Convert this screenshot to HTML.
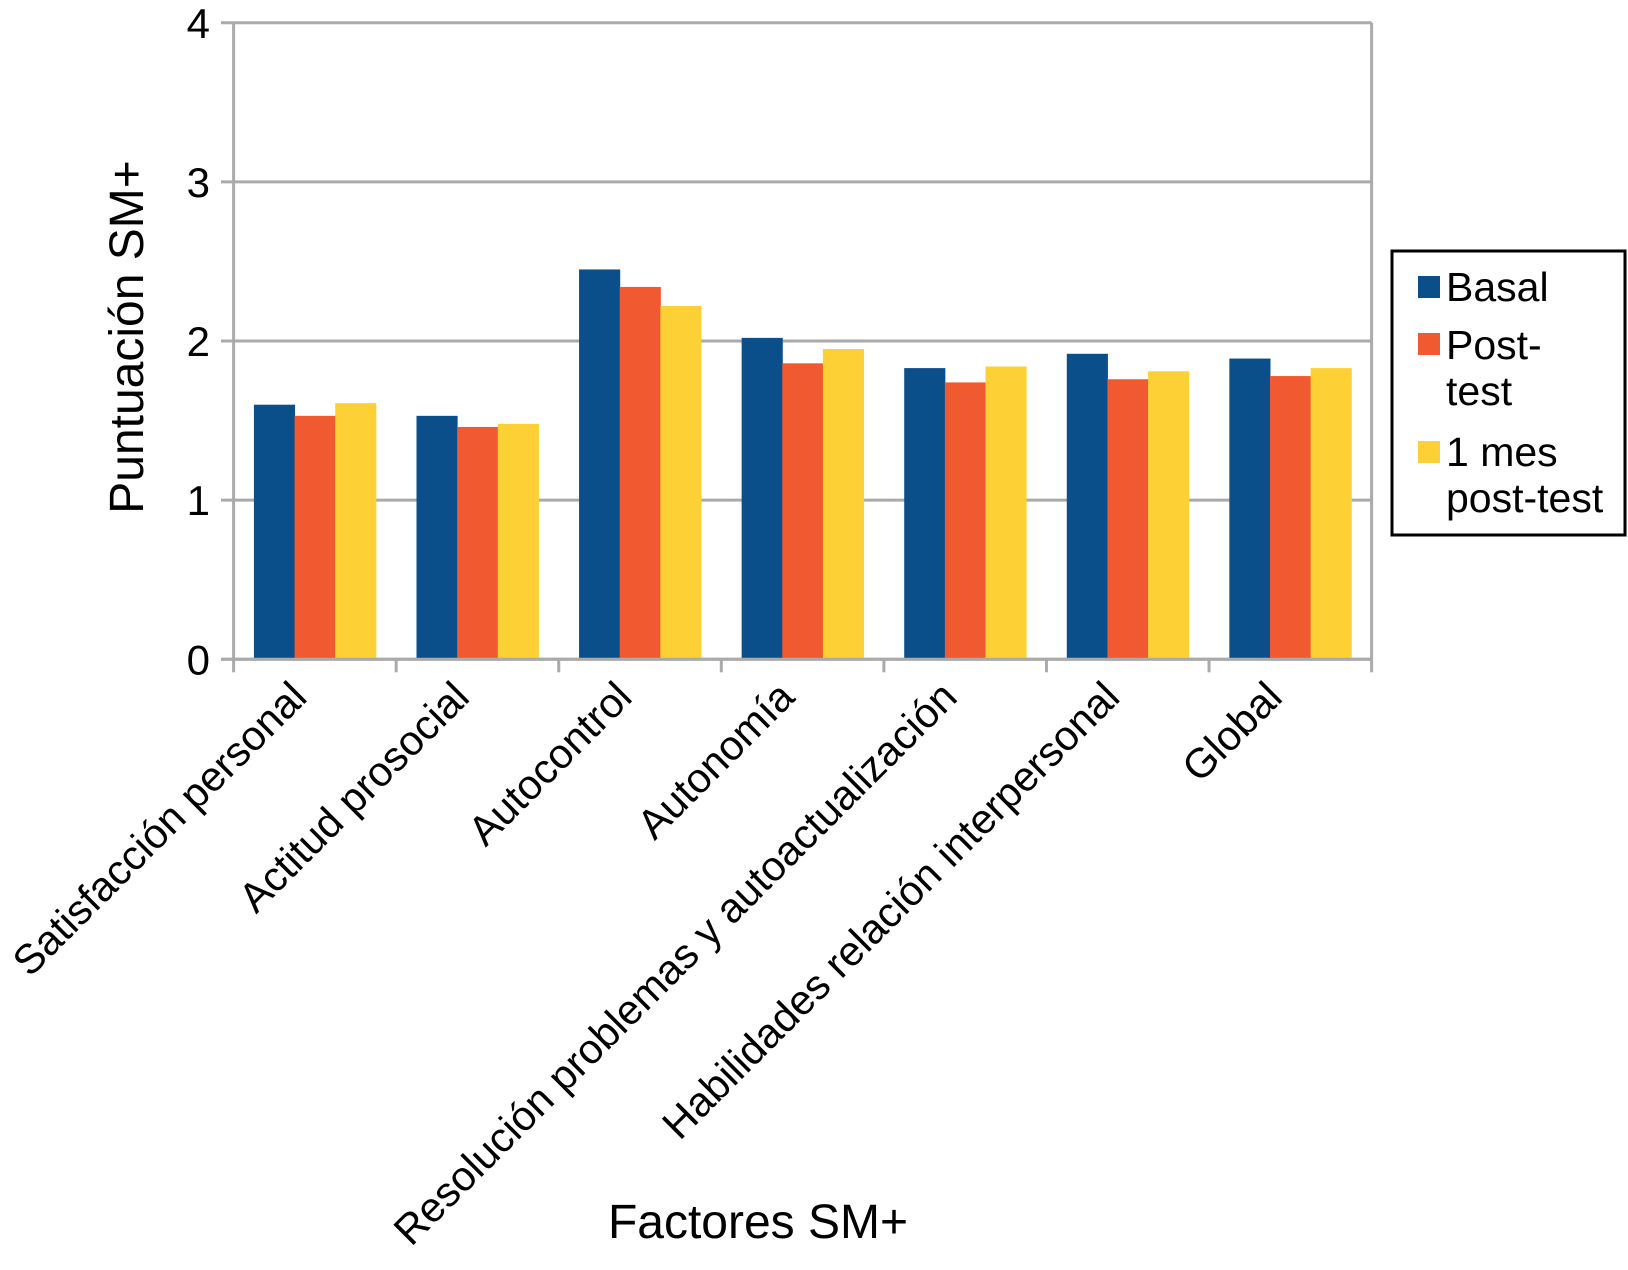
<!DOCTYPE html>
<html><head><meta charset="utf-8"><style>
body{margin:0;background:#fff;}
svg text{font-family:"Liberation Sans",Arial,sans-serif;fill:#000;}
</style></head><body>
<svg id="chart" width="1628" height="1265" viewBox="0 0 1628 1265" xmlns="http://www.w3.org/2000/svg">
<g id="grid"></g>
<g id="bars"></g>
<g id="axes"></g>
<text x="0" y="0" font-size="48" text-anchor="middle" transform="translate(143,337) rotate(-90)">Puntuación SM+</text>
<text x="758" y="1238" font-size="48" text-anchor="middle">Factores SM+</text>
<g>
<rect x="1392" y="251" width="233" height="284" fill="#fff" stroke="#000" stroke-width="3"/>
<rect x="1418" y="276" width="22" height="22" fill="#0a4f8a"/>
<text x="1446" y="301" font-size="41">Basal</text>
<rect x="1418" y="333" width="22" height="22" fill="#f15a30"/>
<text x="1446" y="359" font-size="41">Post-</text>
<text x="1446" y="405" font-size="41">test</text>
<rect x="1418" y="441" width="22" height="22" fill="#fdd135"/>
<text x="1446" y="466" font-size="41">1 mes</text>
<text x="1446" y="512" font-size="41">post-test</text>
</g>
</svg>
<script>
const categories=["Satisfacción personal","Actitud prosocial","Autocontrol","Autonomía","Resolución problemas y autoactualización","Habilidades relación interpersonal","Global"];
const basal=[1.60,1.53,2.45,2.02,1.83,1.92,1.89];
const postTest=[1.53,1.46,2.34,1.86,1.74,1.76,1.78];
const mesPostTest=[1.61,1.48,2.22,1.95,1.84,1.81,1.83];
const yTicks=[0,1,2,3,4];
const NS="http://www.w3.org/2000/svg";
const L=233.6,R=1371.6,T=22.8,B=659.3,YMAX=4;
const y=v=>B-(v/YMAX)*(B-T);
const cw=(R-L)/categories.length;
const x=i=>L+i*cw;
function mk(tag,attrs,parent){const e=document.createElementNS(NS,tag);for(const k in attrs)e.setAttribute(k,attrs[k]);parent.appendChild(e);return e;}
const grid=document.getElementById('grid'),bars=document.getElementById('bars'),axes=document.getElementById('axes');
yTicks.forEach(t=>{
  const g=mk('line',{x1:221,x2:R,y1:y(t),y2:y(t),stroke:'#aaa','stroke-width':3},grid);
  
  
  const tx=mk('text',{x:210,y:y(t)+15,'font-size':42,'text-anchor':'end'},axes);
  tx.textContent=t;
  
  
});
const series=[basal,postTest,mesPostTest],colors=['#0a4f8a','#f15a30','#fdd135'],sn=['basal','post-test','1-mes'];
const bw=cw*0.25;
categories.forEach((c,i)=>{
  series.forEach((s,j)=>{
    const r=mk('rect',{x:x(i)+cw*0.125+j*bw,y:y(s[i]),width:bw+0.5,height:B-y(s[i]),fill:colors[j]},bars);
    
    
  });
  const lbl=mk('text',{x:0,y:0,'font-size':41.5,'text-anchor':'end',transform:`translate(${x(i)+cw/2-6},${B+40}) rotate(-45)`},axes);
  lbl.textContent=c;
  
  
});
for(let i=0;i<=categories.length;i++){
  const t=mk('line',{x1:x(i),x2:x(i),y1:B,y2:B+13,stroke:'#aaa','stroke-width':3},axes);
  
  
}
const ya=mk('line',{x1:L,x2:L,y1:T,y2:B,stroke:'#aaa','stroke-width':3},axes);


const yr=mk('line',{x1:R,x2:R,y1:T,y2:B,stroke:'#aaa','stroke-width':3},axes);


const xa=mk('line',{x1:221,x2:R,y1:B,y2:B,stroke:'#aaa','stroke-width':3},axes);


</script>
</body></html>
